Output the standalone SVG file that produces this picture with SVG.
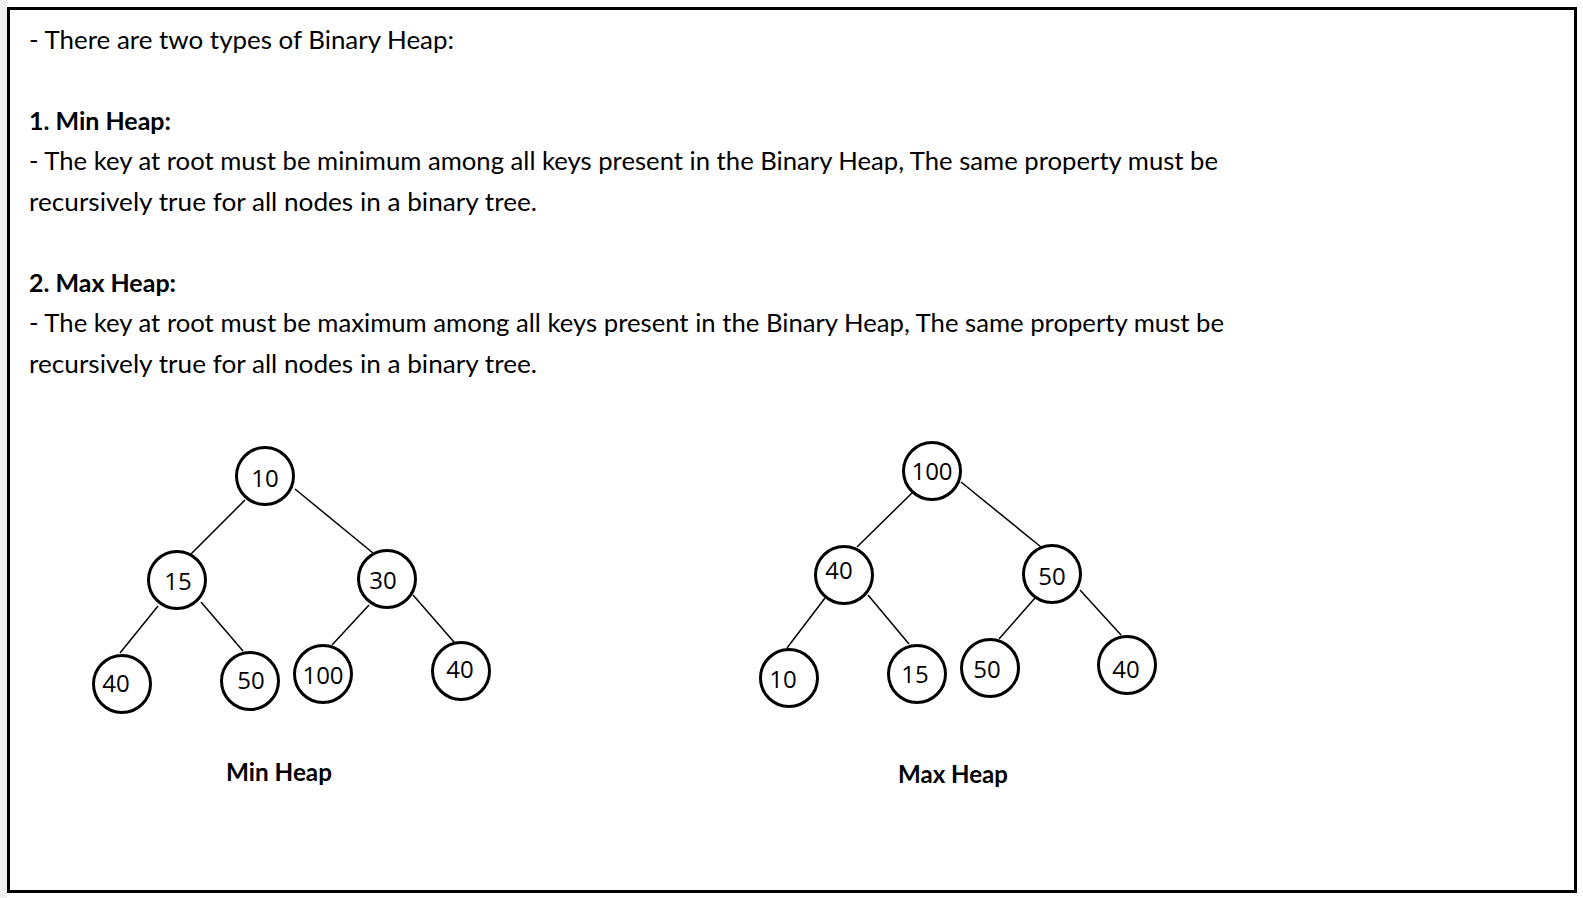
<svg xmlns="http://www.w3.org/2000/svg" width="1583" height="898" viewBox="0 0 1583 898">
<style>
.txt{font-family:"Lato","Noto Sans","Liberation Sans",sans-serif;font-size:25px;fill:#000}
.b{font-weight:bold}
.node circle{fill:#fff;stroke:#000;stroke-width:3}
.node text{font-family:"Open Sans","Noto Sans","Liberation Sans",sans-serif;font-size:24px;fill:#000;text-anchor:middle}
.edges line{stroke:#000;stroke-width:1.5}
.cap{font-family:"Lato","Noto Sans","Liberation Sans",sans-serif;font-size:24px;font-weight:bold;fill:#000}
</style>
<rect x="0" y="0" width="1583" height="898" fill="#fff"/>
<rect x="0" y="0" width="7" height="898" fill="#f0f0f0"/>
<rect x="8.5" y="8.5" width="1567" height="883" fill="#fff" stroke="#000" stroke-width="3"/>
<g id="text">
<text class="txt" x="29" y="48.5" textLength="425" lengthAdjust="spacingAndGlyphs">- There are two types of Binary Heap:</text>
<text class="txt b" x="29" y="129.5" textLength="142" lengthAdjust="spacingAndGlyphs">1. Min Heap:</text>
<text class="txt" x="29" y="170" textLength="1189" lengthAdjust="spacingAndGlyphs">- The key at root must be minimum among all keys present in the Binary Heap, The same property must be</text>
<text class="txt" x="29" y="210.5" textLength="508" lengthAdjust="spacingAndGlyphs">recursively true for all nodes in a binary tree.</text>
<text class="txt b" x="29" y="291.5" textLength="147" lengthAdjust="spacingAndGlyphs">2. Max Heap:</text>
<text class="txt" x="29" y="332" textLength="1195" lengthAdjust="spacingAndGlyphs">- The key at root must be maximum among all keys present in the Binary Heap, The same property must be</text>
<text class="txt" x="29" y="372.5" textLength="508" lengthAdjust="spacingAndGlyphs">recursively true for all nodes in a binary tree.</text>
</g>
<g id="connectors" class="edges">
<line x1="245" y1="500" x2="190" y2="555"/>
<line x1="295" y1="489" x2="373" y2="553"/>
<line x1="158" y1="606" x2="120" y2="653"/>
<line x1="201" y1="602" x2="243" y2="651"/>
<line x1="369" y1="605" x2="332" y2="645"/>
<line x1="413" y1="595" x2="454" y2="642"/>
<line x1="912" y1="493" x2="857" y2="547"/>
<line x1="961" y1="482" x2="1041" y2="547"/>
<line x1="825" y1="598" x2="787" y2="648"/>
<line x1="868" y1="595" x2="909" y2="644"/>
<line x1="1035" y1="598" x2="999" y2="639"/>
<line x1="1080" y1="590" x2="1121" y2="635"/>
</g>
<g id="min-10" class="node"><circle cx="265" cy="476" r="28.5"/><text x="265" y="487">10</text></g>
<g id="min-15" class="node"><circle cx="177" cy="580" r="28.5"/><text x="178" y="590">15</text></g>
<g id="min-30" class="node"><circle cx="387" cy="579" r="28.5"/><text x="383" y="589">30</text></g>
<g id="min-40a" class="node"><circle cx="122" cy="684" r="28.5"/><text x="116" y="692">40</text></g>
<g id="min-50" class="node"><circle cx="250" cy="681" r="28.5"/><text x="251" y="689">50</text></g>
<g id="min-100" class="node"><circle cx="323" cy="674" r="28.5"/><text x="323" y="684">100</text></g>
<g id="min-40b" class="node"><circle cx="461" cy="671" r="28.5"/><text x="460" y="678">40</text></g>
<g id="max-100" class="node"><circle cx="932" cy="471" r="28.5"/><text x="932" y="480">100</text></g>
<g id="max-40" class="node"><circle cx="844" cy="575" r="28.5"/><text x="839" y="579">40</text></g>
<g id="max-50" class="node"><circle cx="1052" cy="574" r="28.5"/><text x="1052" y="585">50</text></g>
<g id="max-10" class="node"><circle cx="789" cy="678" r="28.5"/><text x="783" y="688">10</text></g>
<g id="max-15" class="node"><circle cx="917" cy="674" r="28.5"/><text x="915" y="683">15</text></g>
<g id="max-50b" class="node"><circle cx="990" cy="668" r="28.5"/><text x="987" y="678">50</text></g>
<g id="max-40b" class="node"><circle cx="1127" cy="665" r="28.5"/><text x="1126" y="678">40</text></g>
<g id="captions">
<text class="cap" x="226" y="781" textLength="106" lengthAdjust="spacingAndGlyphs">Min Heap</text>
<text class="cap" x="898" y="783" textLength="110" lengthAdjust="spacingAndGlyphs">Max Heap</text>
</g>
</svg>
